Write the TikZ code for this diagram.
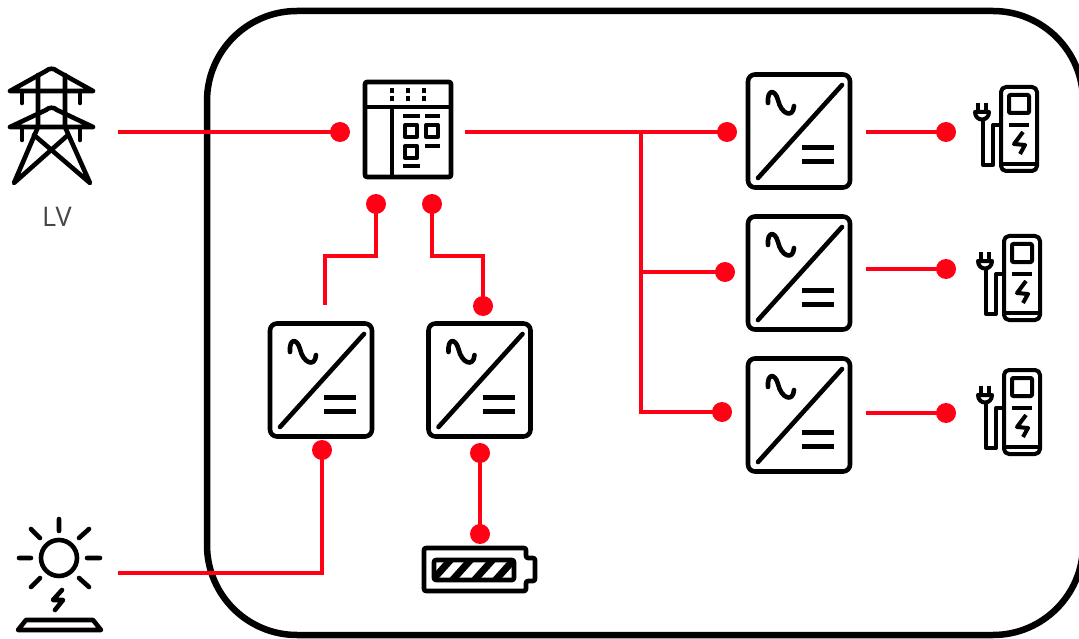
\documentclass[tikz,border=0pt]{standalone}
\usepackage{fontspec}
\setmainfont{Open Sans}
\definecolor{wire}{RGB}{255,0,20}
\definecolor{lbl}{RGB}{70,70,70}
\tikzset{
  x=1pt,y=-1pt,
  frame/.style={line width=6.5pt,draw=black},
  icon/.style={line width=4.6pt,draw=black,line cap=round,line join=round},
  thinicon/.style={line width=4pt,draw=black,line cap=round,line join=round},
  wireline/.style={line width=4.4pt,draw=wire,line join=miter},
  dot/.style={circle,fill=wire,draw=none,minimum size=20pt,inner sep=0pt},
  inverter/.pic={
    \draw[icon,rounded corners=7pt] (-51,-56.5) rectangle (51,56.5);
    \draw[icon] (-41,47) -- (43,-46);
    \draw[icon,line width=5pt,line cap=butt] (3,17) -- (35,17) (3,31) -- (35,31);
    \draw[icon] (-31,-28) .. controls (-32,-42) and (-24,-42) .. (-21,-31)
       .. controls (-18,-17) and (-6,-12) .. (-5,-25);
  },
  charger/.pic={
    \draw[thinicon,rounded corners=5pt] (-18,42) -- (-18,-42) -- (18,-42) -- (18,42) -- cycle;
    \draw[thinicon,line cap=butt] (-18,35) -- (18,35);
    \draw[thinicon,rounded corners=1pt] (-10,-34) rectangle (10,-16);
    \draw[thinicon,line cap=butt] (-10,-4) -- (10,-4);
    \draw[thinicon,line cap=butt] (4,3) -- (-5,15) -- (6,16) -- (1,25);
    \draw[thinicon,line cap=butt] (-18,-4) -- (-26,-4) -- (-26,36) -- (-36,36) -- (-36,-9);
    \draw[thinicon,line cap=butt] (-44,-17) .. controls (-44,-7) and (-30,-7) .. (-30,-17) -- cycle;
    \draw[thinicon,line cap=butt] (-41,-26) -- (-41,-17) (-33,-26) -- (-33,-17);
  }
}
\begin{document}
\begin{tikzpicture}
\useasboundingbox (0,0) rectangle (1079,639);
\begin{scope}
\clip (0,0) rectangle (1079,639);
\draw[frame,rounded corners=90pt] (207,11) rectangle (1083,635);
\end{scope}

% free ends
\coordinate (gridEnd) at (118,132);
\coordinate (panelOut) at (465,132);
\coordinate (busTop) at (641,132);
\coordinate (busMid) at (641,272);
\coordinate (busBot) at (641,412);
\coordinate (out1) at (866,132);
\coordinate (out2) at (866,269);
\coordinate (out3) at (866,413);
\coordinate (pvEnd) at (118,573);
\coordinate (pvCorner) at (322,573);
\coordinate (invAEnd) at (325,305);
\coordinate (invATurnA) at (376,256);
\coordinate (invATurnB) at (325,256);
\coordinate (invBTurnA) at (432,256);
\coordinate (invBTurnB) at (483,256);

% dots
\node[dot] (dGrid) at (340,132) {};
\node[dot] (dIn1) at (727,132) {};
\node[dot] (dIn2) at (725,272) {};
\node[dot] (dIn3) at (722,412) {};
\node[dot] (dEv1) at (946,132) {};
\node[dot] (dEv2) at (946,269) {};
\node[dot] (dEv3) at (946,413) {};
\node[dot] (dPanelA) at (376,204) {};
\node[dot] (dPanelB) at (432,204) {};
\node[dot] (dInvB) at (483,306) {};
\node[dot] (dInvA) at (322,450) {};
\node[dot] (dInvC) at (480,453) {};
\node[dot] (dBat) at (480,534) {};

% wires
\draw[wireline] (gridEnd) -- (dGrid.center);
\draw[wireline] (panelOut) -- (dIn1.center);
\draw[wireline] (busTop) -- (busBot) -- (dIn3.center);
\draw[wireline] (busMid) -- (dIn2.center);
\draw[wireline] (out1) -- (dEv1.center);
\draw[wireline] (out2) -- (dEv2.center);
\draw[wireline] (out3) -- (dEv3.center);
\draw[wireline] (dPanelA.center) -- (invATurnA) -- (invATurnB) -- (invAEnd);
\draw[wireline] (dPanelB.center) -- (invBTurnA) -- (invBTurnB) -- (dInvB.center);
\draw[wireline] (dInvA.center) -- (pvCorner) -- (pvEnd);
\draw[wireline] (dInvC.center) -- (dBat.center);

% inverters
\pic at (799,131) {inverter};
\pic at (799,273) {inverter};
\pic at (799,415) {inverter};
\pic at (321,380) {inverter};
\pic at (479.5,380) {inverter};

% chargers
\pic at (1019,129) {charger};
\pic at (1022,278) {charger};
\pic at (1022,412) {charger};

% tower
\draw[icon] (10,91) -- (93,91) (10,91) -- (46,71) .. controls (49,68) and (54,68) .. (57,71) -- (93,91);
\draw[icon] (10,127) -- (93,127) (10,127) -- (46,110) .. controls (49,107) and (54,107) .. (57,110) -- (93,127);
\draw[icon] (38,75) -- (38,127) -- (14,183) -- (68,135);
\draw[icon] (65,75) -- (65,127) -- (90,183) -- (34,135);
\draw[icon] (22,91) -- (22,103) (80,91) -- (80,103) (22,127) -- (22,140) (80,127) -- (80,140);
\node[text=lbl,font=\fontsize{27}{29}\selectfont,anchor=center] (lvLabel) at (57,217) {LV};

% switchboard
\draw[icon,rounded corners=2pt] (365,82) rectangle (451,177);
\draw[icon,line cap=butt] (365,107) -- (451,107) (392,107) -- (392,177);
\draw[thinicon,line cap=butt] (392,88) -- (392,93) (392,96) -- (392,101) (408,88) -- (408,93) (408,96) -- (408,101) (424,88) -- (424,93) (424,96) -- (424,101);
\draw[thinicon,line cap=butt] (403,116) -- (420,116) (425,116) -- (440,116) (425,146) -- (440,146) (403,166) -- (420,166);
\draw[thinicon] (405,125) rectangle (417,137) (426,125) rectangle (438,137) (405,146) rectangle (417,158);

% sun and panel
\draw[icon] (59,558) circle[radius=18];
\draw[icon] (59,519) -- (59,531) (19,558) -- (31,558) (87,558) -- (100,558)
  (31,529) -- (40,538) (89,529) -- (79,538) (31,587) -- (40,578) (79,578) -- (89,587);
\draw[icon] (62,590) -- (53,600) -- (63,600) -- (55,610);
\draw[icon] (18,630) -- (26,620) -- (93,620) -- (101,630) -- cycle;

% battery
\draw[icon,rounded corners=2pt] (424,548) -- (526,548) -- (526,558) -- (535,558) -- (535,581) -- (526,581) -- (526,591) -- (424,591) -- cycle;
\begin{scope}
\clip (433,560) rectangle (514,580);
\draw[line width=7pt,draw=black] (428,585) -- (455,555) (448,585) -- (475,555) (470,585) -- (497,555) (491,585) -- (518,555);
\end{scope}
\draw[icon,rounded corners=2pt] (434,560) rectangle (514,580);
\end{tikzpicture}
\end{document}
